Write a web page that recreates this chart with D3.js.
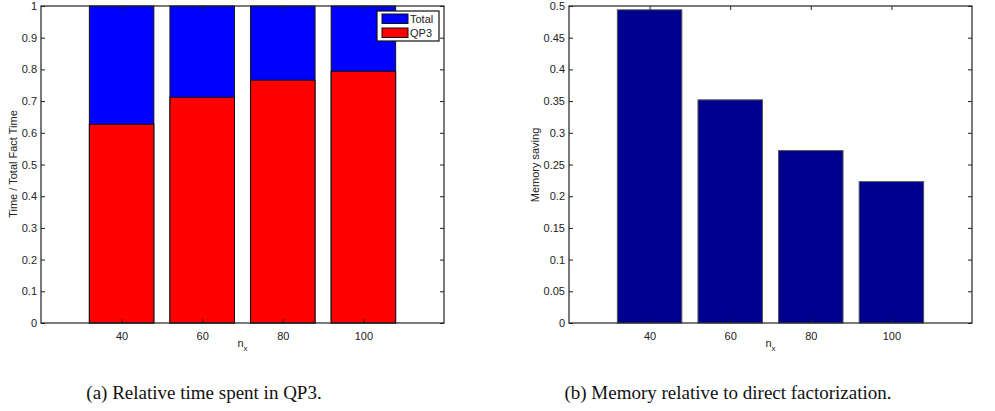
<!DOCTYPE html>
<html>
<head>
<meta charset="utf-8">
<script src="https://cdn.jsdelivr.net/npm/d3@7"></script>
<style>
  html, body { margin: 0; padding: 0; background: #fff; }
  svg { display: block; }
  .tick text { font-family: "Liberation Sans", Arial, sans-serif; font-size: 11px; fill: #222; }
  .lbl { font-family: "Liberation Sans", Arial, sans-serif; font-size: 11px; fill: #222; }
  .cap { font-family: "Liberation Serif", "DejaVu Serif", serif; font-size: 19px; fill: #111; }
</style>
</head>
<body>
<script>
// Grid sizes on the horizontal axis
const categories = [40, 60, 80, 100];
// (a) fraction of total factorization time
const totalTime = [1, 1, 1, 1];
const qp3Time = [0.627, 0.712, 0.766, 0.794];
// (b) memory relative to direct factorization
const memorySaving = [0.494, 0.352, 0.272, 0.223];
const yTicksA = d3.range(0, 1.0001, 0.1);
const yTicksB = d3.range(0, 0.5001, 0.05);

const W = 995, H = 411;
const svg = d3.select("body").append("svg").attr("width", W).attr("height", H);

function panel(opts) {
  const g = svg.append("g");
  const x = d3.scaleLinear().domain([20, 120]).range([opts.x0, opts.x1]);
  const y = d3.scaleLinear().domain([0, opts.ymax]).range([opts.y1, opts.y0]);
  const bw = (x(40) - x(20)) * 0.8;

  opts.draw(g, x, y, bw);

  const tickLen = 4;
  // left axis with labels, inward ticks
  g.append("g").attr("transform", `translate(${opts.x0},0)`)
    .call(d3.axisLeft(y).tickValues(opts.yTicks).tickFormat(opts.fmt).tickSize(-tickLen).tickPadding(4))
    .call(a => a.select(".domain").remove());
  // right axis ticks (inward, no labels)
  g.append("g").attr("transform", `translate(${opts.x1},0)`)
    .call(d3.axisRight(y).tickValues(opts.yTicks).tickFormat("").tickSize(-tickLen))
    .call(a => a.select(".domain").remove());
  // bottom axis
  g.append("g").attr("transform", `translate(0,${opts.y1})`)
    .call(d3.axisBottom(x).tickValues(categories).tickFormat(d3.format("d")).tickSize(-tickLen).tickPadding(9))
    .call(a => a.select(".domain").remove());
  // top ticks
  g.append("g").attr("transform", `translate(0,${opts.y0})`)
    .call(d3.axisTop(x).tickValues(categories).tickFormat("").tickSize(-tickLen))
    .call(a => a.select(".domain").remove());
  g.selectAll(".tick line").attr("stroke", "#222");

  // frame
  g.append("rect").attr("x", opts.x0).attr("y", opts.y0)
    .attr("width", opts.x1 - opts.x0).attr("height", opts.y1 - opts.y0)
    .attr("fill", "none").attr("stroke", "#222").attr("stroke-width", 1.2);

  // axis titles
  const xl = g.append("text").attr("class", "lbl")
    .attr("x", (opts.x0 + opts.x1) / 2).attr("y", opts.y1 + 24).attr("text-anchor", "middle");
  xl.append("tspan").text("n");
  xl.append("tspan").attr("font-size", "8px").attr("dy", 4).text("x");

  g.append("text").attr("class", "lbl")
    .attr("transform", `translate(${opts.ylx},${opts.ylY}) rotate(-90)`)
    .attr("text-anchor", "middle").text(opts.ylabel);

  g.append("text").attr("class", "cap").attr("x", opts.capX).attr("y", 399)
    .attr("text-anchor", "middle").text(opts.caption);
}

panel({
  x0: 41, x1: 444, y0: 6, y1: 323, ymax: 1,
  yTicks: yTicksA, fmt: d => d === 0 ? "0" : d === 1 ? "1" : d3.format(".1f")(d),
  ylx: 17, ylY: 164, ylabel: "Time / Total Fact Time",
  capX: 204, caption: "(a) Relative time spent in QP3.",
  draw(g, x, y, bw) {
    g.selectAll(".tot").data(categories).join("rect")
      .attr("x", d => x(d) - bw / 2).attr("width", bw)
      .attr("y", (d, i) => y(totalTime[i])).attr("height", (d, i) => y(0) - y(totalTime[i]))
      .attr("fill", "#0000ff").attr("stroke", "#111").attr("stroke-width", 1);
    g.selectAll(".qp").data(categories).join("rect")
      .attr("x", d => x(d) - bw / 2).attr("width", bw)
      .attr("y", (d, i) => y(qp3Time[i])).attr("height", (d, i) => y(0) - y(qp3Time[i]))
      .attr("fill", "#ff0000").attr("stroke", "#111").attr("stroke-width", 1);
    // legend
    const lg = g.append("g");
    lg.append("rect").attr("x", 377).attr("y", 11).attr("width", 62).attr("height", 30)
      .attr("fill", "#fff").attr("stroke", "#111").attr("stroke-width", 1.2);
    const items = [["Total", "#0000ff"], ["QP3", "#ff0000"]];
    items.forEach(([name, c], i) => {
      lg.append("rect").attr("x", 382).attr("y", 14 + i * 14).attr("width", 26).attr("height", 9.5)
        .attr("fill", c).attr("stroke", "#111").attr("stroke-width", 1);
      lg.append("text").attr("x", 410).attr("y", 23 + i * 14)
        .style("font-family", "Liberation Sans, Arial, sans-serif").style("font-size", "11px").attr("fill", "#222")
        .text(name);
    });
  }
});

panel({
  x0: 569, x1: 972, y0: 6, y1: 323, ymax: 0.5,
  yTicks: yTicksB, fmt: d => d === 0 ? "0" : d3.format("")(+d.toFixed(2)),
  ylx: 539, ylY: 165, ylabel: "Memory saving",
  capX: 728, caption: "(b) Memory relative to direct factorization.",
  draw(g, x, y, bw) {
    g.selectAll(".mem").data(categories).join("rect")
      .attr("x", d => x(d) - bw / 2).attr("width", bw)
      .attr("y", (d, i) => y(memorySaving[i])).attr("height", (d, i) => y(0) - y(memorySaving[i]))
      .attr("fill", "#00008f").attr("stroke", "#555").attr("stroke-width", 1);
  }
});
</script>
</body>
</html>
